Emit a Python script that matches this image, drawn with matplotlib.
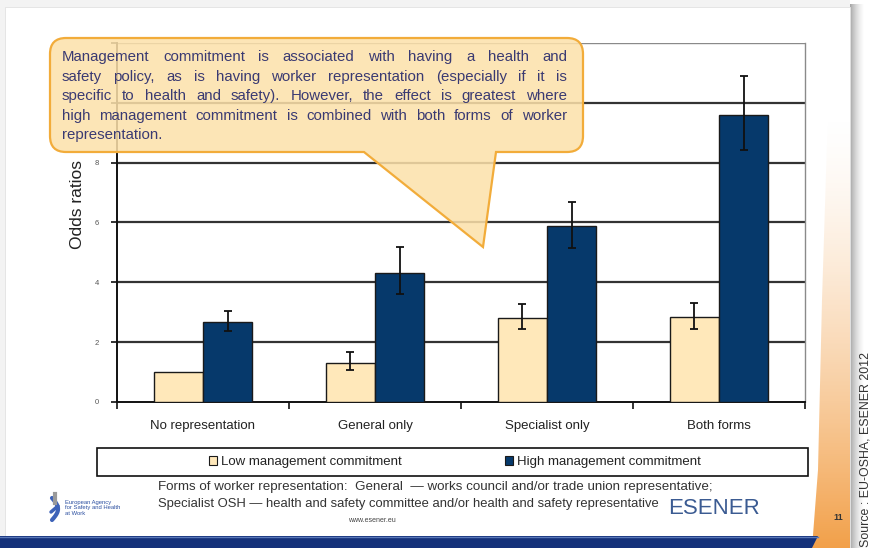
import numpy as np
import matplotlib
matplotlib.use("Agg")
import matplotlib.pyplot as plt
from matplotlib.patches import Rectangle, PathPatch, Polygon, Patch
from matplotlib.path import Path

plt.rcParams['font.family'] = ['Liberation Sans', 'DejaVu Sans']

# ---------------- data ----------------
categories = ["No representation", "General only", "Specialist only", "Both forms"]
low_values = [1.0, 1.3, 2.8, 2.85]
low_ci_lower = [1.0, 1.07, 2.45, 2.45]
low_ci_upper = [1.0, 1.67, 3.27, 3.32]
high_values = [2.67, 4.32, 5.87, 9.6]
high_ci_lower = [2.38, 3.6, 5.15, 8.43]
high_ci_upper = [3.05, 5.17, 6.68, 10.9]
series_labels = ["Low management commitment", "High management commitment"]
y_ticks = [0, 2, 4, 6, 8, 10, 12]
y_tick_labels = ["0", "2", "4", "6", "8", "", ""]
y_label = "Odds ratios"
callout_lines = [
    "Management commitment is associated with having a health and",
    "safety policy, as is having worker representation (especially if it is",
    "specific to health and safety). However, the effect is greatest where",
    "high management commitment is combined with both forms of worker",
    "representation.",
]
footer_lines = [
    "Forms of worker representation:  General  \u2014 works council and/or trade union representative;",
    "Specialist OSH \u2014 health and safety committee and/or health and safety representative",
]
source_text = "Source : EU-OSHA, ESENER 2012"

W, H = 874, 548
fig = plt.figure(figsize=(W / 100, H / 100), dpi=100)
fig.patch.set_facecolor('#f3f3f3')

# ---------------- background (slide) ----------------
bg = fig.add_axes([0, 0, 1, 1], zorder=1)
bg.set_xlim(0, W); bg.set_ylim(H, 0); bg.axis('off')
bg.add_patch(Rectangle((850, 0), 24, H, facecolor='white', edgecolor='none'))
shadow = np.linspace(0, 1, 50)[None, :]
bg.imshow(shadow, extent=(850, 864, H, 4), cmap='Greys_r', vmin=-1.2, vmax=1.0,
          aspect='auto', zorder=1)
bg.add_patch(Rectangle((5, 7), 845, H, facecolor='white', edgecolor='#e2e2e2', lw=0.6, zorder=2))
# orange stripe at right
grad = np.linspace(0, 1, 200)[:, None] ** 1.5
rgba = np.zeros((200, 1, 4))
rgba[..., 0] = 0.95; rgba[..., 1] = 0.63; rgba[..., 2] = 0.29
rgba[..., 3] = grad
im = bg.imshow(rgba, extent=(805, 850, H, 110), aspect='auto', zorder=3)
clip = Polygon([(828, 110), (850, 110), (850, H), (812, H), (818, 470), (822, 300)],
               closed=True, transform=bg.transData, facecolor='none', edgecolor='none')
bg.add_patch(clip)
im.set_clip_path(clip)
# bottom blue band
bg.add_patch(Polygon([(0, 536), (818, 536), (812, H), (0, H)], closed=True,
                     facecolor='#14317a', edgecolor='none', zorder=4))
bg.plot([0, 818], [536.5, 536.5], color='#5a78b8', lw=1, zorder=5)

# legend frame
bg.add_patch(Rectangle((97, 448), 711, 28, facecolor='white', edgecolor='#111111', lw=1.2, zorder=4))

# footer texts
bg.text(158, 487, footer_lines[0], fontsize=9.6, color='#333333', va='center', ha='left', zorder=6)
bg.text(158, 504, footer_lines[1], fontsize=9.4, color='#333333', va='center', ha='left', zorder=6)
bg.text(372, 521, "www.esener.eu", fontsize=5, color='#444444', va='center', ha='center', zorder=6)
bg.text(668, 509, "ESENER", fontsize=16, color='#3b5b92', va='center', ha='left', zorder=7)
bg.text(838, 518, "11", fontsize=6.5, color='#333333', fontweight='bold', va='center', ha='center', zorder=6)
# EU-OSHA logo
t = np.linspace(0, 1, 40)
bg.plot(50 + 10 * np.sin(np.pi * t) * 0.6 + 2, 498 + 22 * t, color='#3d62b8', lw=3, zorder=6,
        solid_capstyle='round')
bg.plot([51, 58], [512, 506], color='#3d62b8', lw=2.5, zorder=6, solid_capstyle='round')
bg.plot([55, 55], [494, 503], color='#9a9a9a', lw=3, zorder=6)
bg.text(65, 508, "European Agency\nfor Safety and Health\nat Work", fontsize=4.2, color='#2b4fa0',
        va='center', ha='left', linespacing=1.1, zorder=6)
# source text
bg.text(866, 547, source_text, rotation=90, fontsize=8.9, color='#333333', ha='center', va='bottom',
        zorder=6)

# ---------------- chart ----------------
L, R, T, B = 117, 805, 43, 402
ax = fig.add_axes([L / W, (H - B) / H, (R - L) / W, (B - T) / H], zorder=2)
ax.patch.set_alpha(0)
x = np.arange(len(categories))
bw = 0.285
low = np.array(low_values); high = np.array(high_values)
ax.bar(x - bw / 2, low, bw, color='#FFE8BA', edgecolor='#1a1a1a', lw=1.0, zorder=3,
       label=series_labels[0])
ax.bar(x + bw / 2, high, bw, color='#06396B', edgecolor='#1a1a1a', lw=1.0, zorder=3,
       label=series_labels[1])
ax.errorbar(x[1:] - bw / 2, low[1:],
            yerr=[low[1:] - np.array(low_ci_lower[1:]), np.array(low_ci_upper[1:]) - low[1:]],
            fmt='none', ecolor='#111111', elinewidth=1.3, capsize=3, capthick=1.3, zorder=4)
ax.errorbar(x + bw / 2, high,
            yerr=[high - np.array(high_ci_lower), np.array(high_ci_upper) - high],
            fmt='none', ecolor='#111111', elinewidth=1.3, capsize=3, capthick=1.3, zorder=4)
ax.set_xlim(-0.5, len(categories) - 0.5)
ax.set_ylim(0, 12)
ax.set_yticks(y_ticks)
ax.set_yticklabels(y_tick_labels, fontsize=5.5, color='#555555')
for v in y_ticks[1:-1]:
    ax.axhline(v, color='#333333', lw=1.6, zorder=1)
ax.axhline(12, color='#8a8a8a', lw=1.0, zorder=1)
ax.set_xticks(np.arange(-0.5, len(categories), 1.0))
ax.set_xticklabels([])
ax.set_xticks(x, minor=True)
ax.set_xticklabels(categories, minor=True, fontsize=9.5, color='#222222')
ax.tick_params(axis='x', which='major', direction='out', length=5, width=1.2, color='#111111')
ax.tick_params(axis='x', which='minor', length=0, pad=13)
ax.tick_params(axis='y', direction='out', length=4, width=1.2, color='#111111', pad=9)
for s in ['left', 'bottom']:
    ax.spines[s].set_color('#111111'); ax.spines[s].set_linewidth(1.4)
ax.spines['top'].set_visible(False)
ax.spines['right'].set_color('#8a8a8a'); ax.spines['right'].set_linewidth(1.0)
ax.set_ylabel(y_label, fontsize=12.5, color='#222222')
ax.yaxis.set_label_coords(-0.047, 0.55)

handles = [Patch(facecolor='#FFE8BA', edgecolor='#1a1a1a', lw=0.8),
           Patch(facecolor='#06396B', edgecolor='#1a1a1a', lw=0.8)]
ax.legend(handles, series_labels, loc='center', bbox_to_anchor=(455 / W, 1 - 462 / H),
          bbox_transform=fig.transFigure, ncol=2, frameon=False, fontsize=9.5,
          handlelength=0.65, handleheight=0.65, handletextpad=0.3, columnspacing=7.8,
          labelcolor='#222222')

# ---------------- callout overlay ----------------
ov = fig.add_axes([0, 0, 1, 1], zorder=3)
ov.patch.set_alpha(0)
ov.set_xlim(0, W); ov.set_ylim(H, 0); ov.axis('off')
x0, x1, y0, y1, r = 50, 583, 38, 152, 16
tail_l, tail_r, tip = 364, 496, (483, 247)
verts = [(x0 + r, y0), (x1 - r, y0), (x1, y0), (x1, y0 + r), (x1, y1 - r), (x1, y1), (x1 - r, y1),
         (tail_r, y1), tip, (tail_l, y1), (x0 + r, y1), (x0, y1), (x0, y1 - r), (x0, y0 + r),
         (x0, y0), (x0 + r, y0), (x0 + r, y0)]
codes = [Path.MOVETO, Path.LINETO, Path.CURVE3, Path.CURVE3, Path.LINETO, Path.CURVE3, Path.CURVE3,
         Path.LINETO, Path.LINETO, Path.LINETO, Path.LINETO, Path.CURVE3, Path.CURVE3, Path.LINETO,
         Path.CURVE3, Path.CURVE3, Path.CLOSEPOLY]
path = Path(verts, codes)
ov.add_patch(PathPatch(path, facecolor='#FCE1AA', edgecolor='none', alpha=0.86))
ov.add_patch(PathPatch(path, facecolor='none', edgecolor='#F2AC3A', lw=1.6))

fig.canvas.draw()
renderer = fig.canvas.get_renderer()
tx0, tx1, ty0, dy = 62, 567, 57, 19.6
kw = dict(fontsize=10.8, color='#3a3a72', va='center', ha='left')
for i, line in enumerate(callout_lines):
    y = ty0 + i * dy
    if i == len(callout_lines) - 1:
        ov.text(tx0, y, line, **kw)
        continue
    words = line.split()
    texts = [ov.text(0, y, w, **kw) for w in words]
    widths = [tt.get_window_extent(renderer).width for tt in texts]
    gap = (tx1 - tx0 - sum(widths)) / (len(words) - 1)
    xx = tx0
    for tt, w in zip(texts, widths):
        tt.set_x(xx)
        xx += w + gap

fig.savefig('out.png', dpi=100, facecolor=fig.get_facecolor())
